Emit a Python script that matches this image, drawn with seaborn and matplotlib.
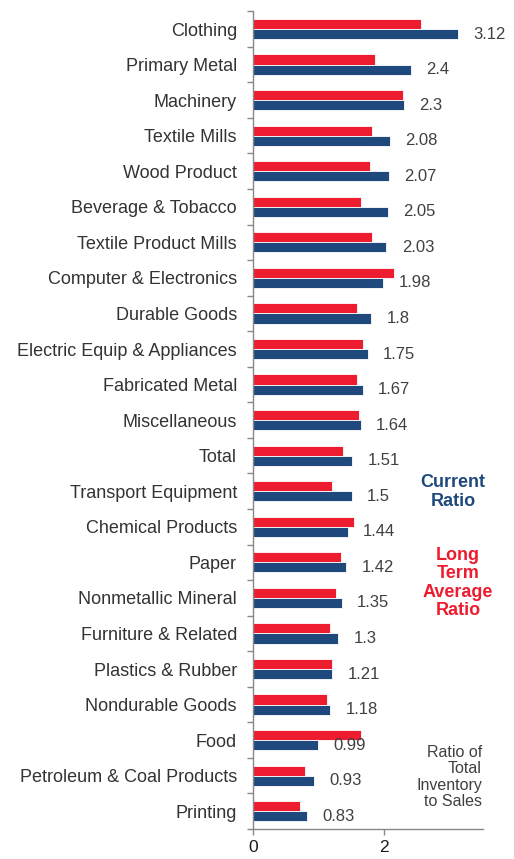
import matplotlib
matplotlib.use("Agg")
import matplotlib.pyplot as plt
import seaborn as sns
import pandas as pd
import numpy as np
from matplotlib.ticker import FixedLocator

categories = [
    "Clothing", "Primary Metal", "Machinery", "Textile Mills", "Wood Product",
    "Beverage & Tobacco", "Textile Product Mills", "Computer & Electronics",
    "Durable Goods", "Electric Equip & Appliances", "Fabricated Metal",
    "Miscellaneous", "Total", "Transport Equipment", "Chemical Products",
    "Paper", "Nonmetallic Mineral", "Furniture & Related", "Plastics & Rubber",
    "Nondurable Goods", "Food", "Petroleum & Coal Products", "Printing",
]
current_ratio = [3.12, 2.4, 2.3, 2.08, 2.07, 2.05, 2.03, 1.98, 1.8, 1.75, 1.67,
                 1.64, 1.51, 1.5, 1.44, 1.42, 1.35, 1.3, 1.21, 1.18, 0.99, 0.93, 0.83]
long_term_avg = [2.55, 1.86, 2.29, 1.81, 1.78, 1.64, 1.81, 2.15, 1.58, 1.67, 1.59,
                 1.62, 1.37, 1.21, 1.54, 1.34, 1.27, 1.17, 1.21, 1.13, 1.65, 0.79, 0.72]
series_names = ["Long Term Average Ratio", "Current Ratio"]
x_ticks = [0, 2]

RED = "#ED1C2E"
BLUE = "#1F497D"
GRAY = "#404040"

df = pd.DataFrame({
    "category": categories * 2,
    "series": [series_names[0]] * len(categories) + [series_names[1]] * len(categories),
    "value": long_term_avg + current_ratio,
})

sns.set_style("white")
plt.rcParams["font.family"] = ["Liberation Sans", "DejaVu Sans"]

fig = plt.figure(figsize=(5.14, 8.59), dpi=100)
ax = fig.add_axes([0.492, 0.0349, 0.4477, 0.952])

sns.barplot(data=df, y="category", x="value", hue="series", order=categories,
            hue_order=series_names, palette=[RED, BLUE], saturation=1, orient="h",
            width=0.57, gap=0, edgecolor="white", linewidth=0.6,
            legend=False, ax=ax)

ax.set_xlim(0, 3.5)
ax.set_ylim(len(categories) - 0.5, -0.5)
ax.set_xlabel("")
ax.set_ylabel("")

# value labels for the current ratio
blue_container = ax.containers[1]
ax.bar_label(blue_container, labels=[f"{v:g}" for v in current_ratio],
             padding=11, fontsize=12, color=GRAY)

# category labels centred on groups, tick marks on group boundaries
ax.set_yticks(range(len(categories)))
ax.set_yticklabels(categories, fontsize=13, color="#333333")
ax.yaxis.set_minor_locator(FixedLocator(np.arange(-0.5, len(categories), 1.0)))
ax.tick_params(axis="y", which="major", length=0, pad=11.5)
ax.tick_params(axis="y", which="minor", length=4, width=1, color="#888888", direction="out", left=True)

ax.set_xticks(x_ticks)
ax.set_xticklabels([str(t) for t in x_ticks], fontsize=12.5, color="#1a1a1a")
ax.tick_params(axis="x", which="major", length=4, width=1, color="#888888", direction="out", bottom=True, pad=4)

for side in ["top", "right"]:
    ax.spines[side].set_visible(False)
for side in ["left", "bottom"]:
    ax.spines[side].set_color("#888888")
    ax.spines[side].set_linewidth(1)

# series annotations
fig.text(453 / 514, 1 - 492 / 859, "Current\nRatio", color=BLUE, fontsize=13,
         fontweight="bold", ha="center", va="center", linespacing=1.1)
fig.text(458 / 514, 1 - 583 / 859, "Long\nTerm\nAverage\nRatio", color=RED, fontsize=13,
         fontweight="bold", ha="center", va="center", linespacing=1.1)
fig.text(482 / 514, 1 - 777 / 859, "Ratio of\nTotal\nInventory\nto Sales", color=GRAY,
         fontsize=11.5, ha="right", va="center", linespacing=1.1)

fig.savefig("out.png", dpi=100)
